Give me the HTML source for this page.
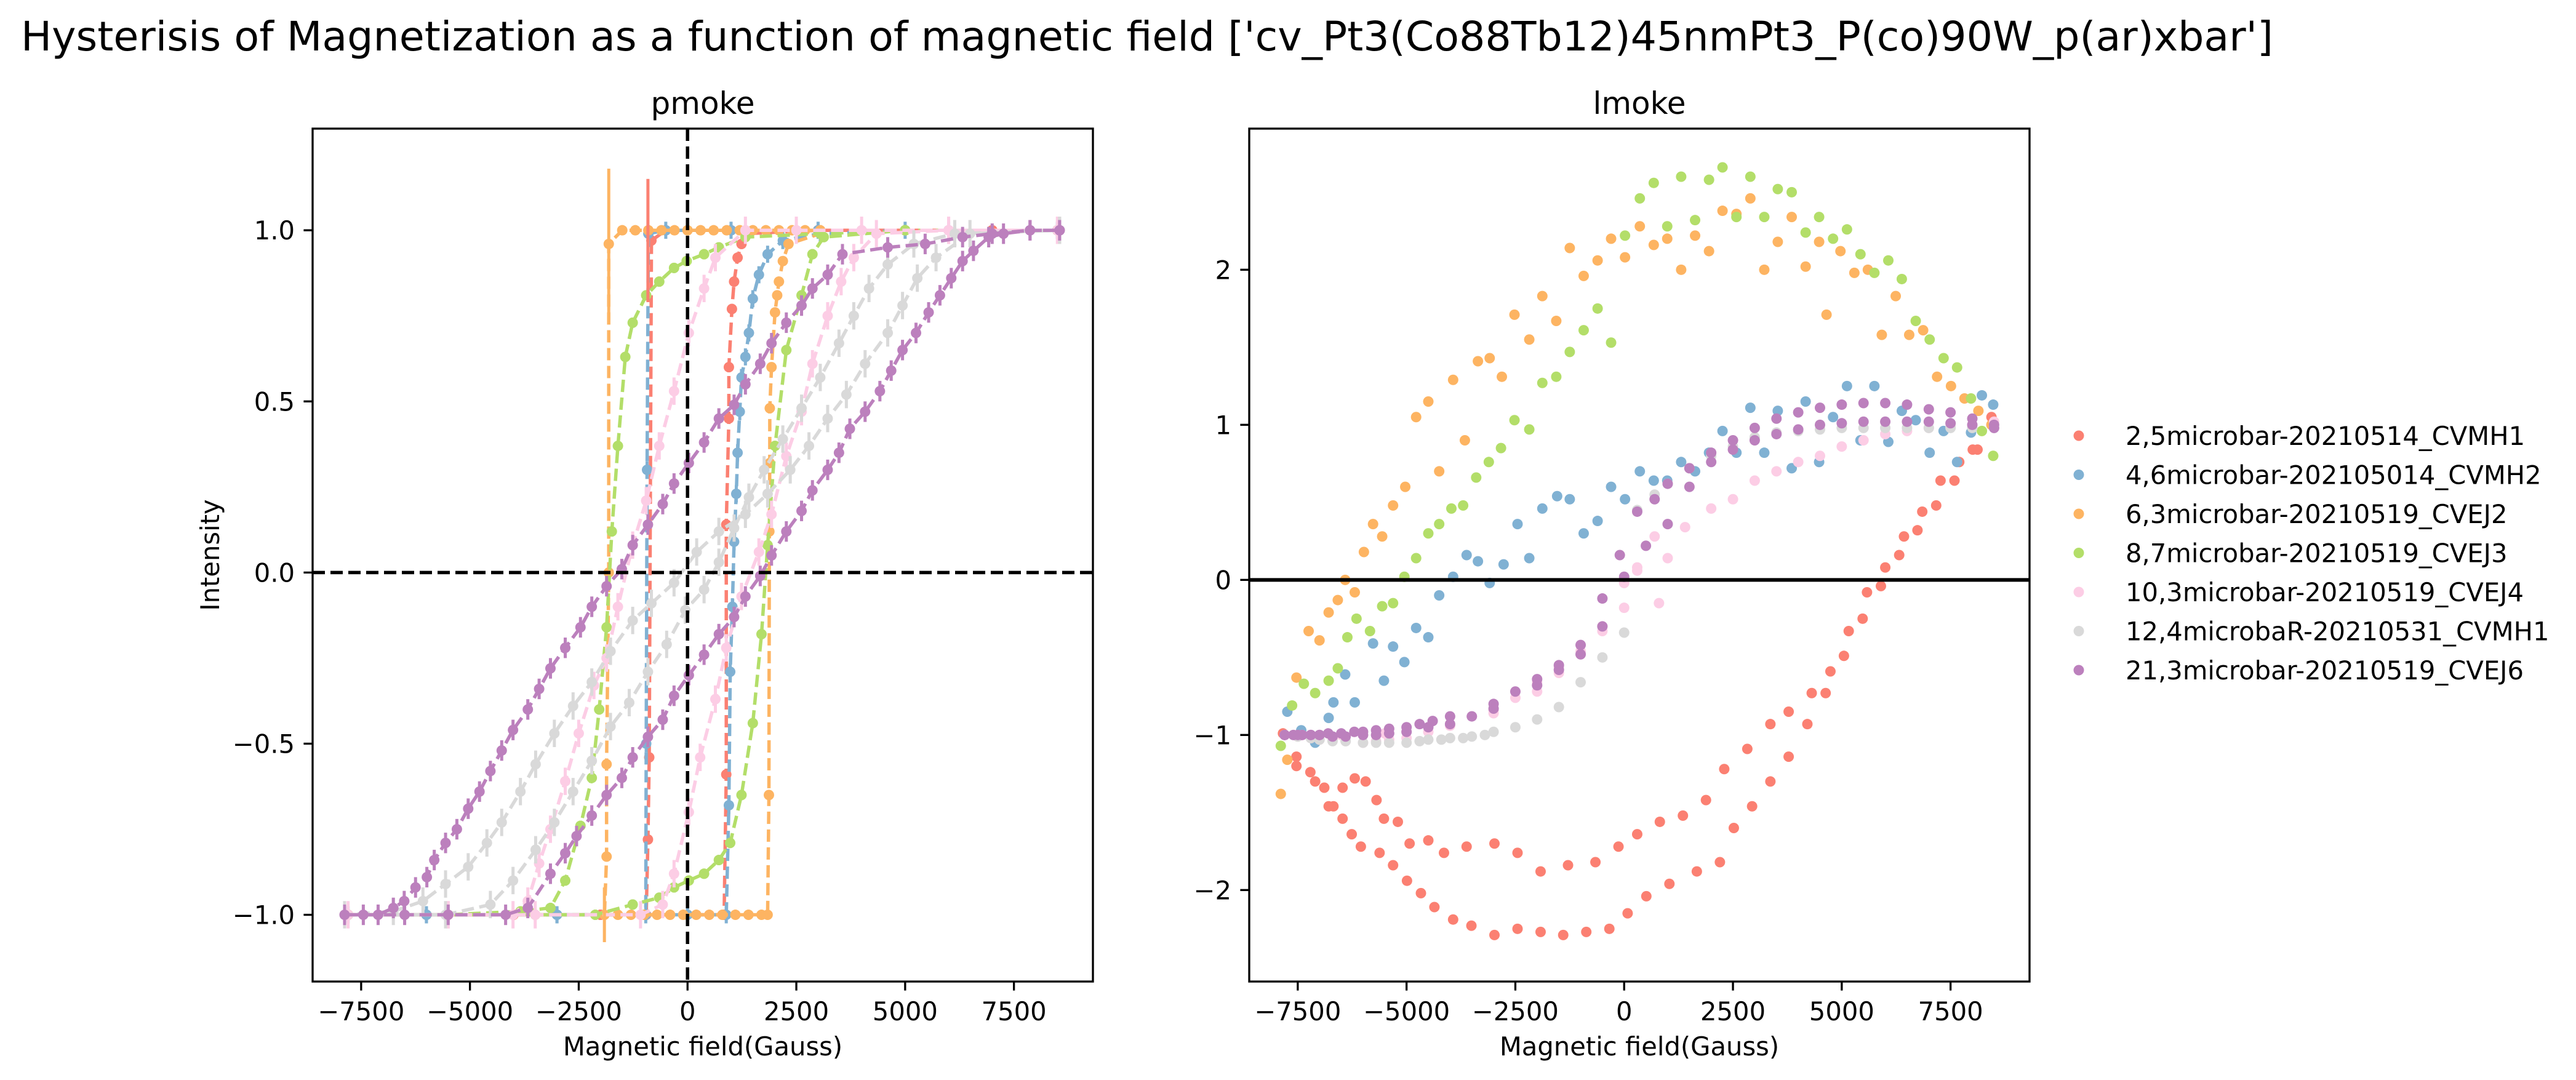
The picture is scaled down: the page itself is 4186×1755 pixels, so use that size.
<!DOCTYPE html>
<html><head><meta charset="utf-8"><style>
html,body{margin:0;padding:0;background:#fff;}
svg{display:block;font-family:"DejaVu Sans","Liberation Sans",sans-serif;}
</style></head><body>
<svg id="fig" xmlns="http://www.w3.org/2000/svg" width="4186" height="1755" viewBox="0 0 4186 1755">
<rect width="4186" height="1755" fill="#fff"/>
<text x="34" y="82" font-size="66" textLength="3660" lengthAdjust="spacingAndGlyphs">Hysterisis of Magnetization as a function of magnetic field ['cv_Pt3(Co88Tb12)45nmPt3_P(co)90W_p(ar)xbar']</text>
<g id="left"></g>
<g id="right"></g>
<g id="legend"></g>
</svg>
<script>
// ---------- data ----------
const seriesNames = ["2,5microbar-20210514_CVMH1","4,6microbar-202105014_CVMH2","6,3microbar-20210519_CVEJ2","8,7microbar-20210519_CVEJ3","10,3microbar-20210519_CVEJ4","12,4microbaR-20210531_CVMH1","21,3microbar-20210519_CVEJ6"];
const seriesColors = ["#fb8072","#80b1d3","#fdb462","#b3de69","#fccde5","#d9d9d9","#bc80bd"];
const xTicks = [-7500,-5000,-2500,0,2500,5000,7500];
const xTickLabels = ["\u22127500","\u22125000","\u22122500","0","2500","5000","7500"];
const leftYTicks = [-1,-0.5,0,0.5,1];
const leftYTickLabels = ["\u22121.0","\u22120.5","0.0","0.5","1.0"];
const rightYTicks = [-2,-1,0,1,2];
const rightYTickLabels = ["\u22122","\u22121","0","1","2"];

// pmoke (left) loops
const pRedX = [8500,7000,5000,3000,1000,-500,-830,-880,-910,-950,-2000,-4000,-6000,-7800,-6000,-4000,-2000,0,840,890,890,950,950,1020,1070,1150,1240,1330,3000,5000,7000,8500];
const pRedY = [1,1,1,1,1,1,0.97,-0.54,-0.78,-1,-1,-1,-1,-1,-1,-1,-1,-1,-1,-0.59,0.14,0.45,0.60,0.77,0.85,0.92,0.96,0.99,1,1,1,1];
const pBlueX = [8500,6000,3000,1000,-500,-900,-930,-950,-960,-3000,-6000,-7800,-6000,-3000,0,890,950,980,1030,1070,1120,1150,1200,1240,1330,1410,1500,1640,1840,2190,3050,5000,8500];
const pBlueY = [1,1,1,1,1,0.99,0.3,-0.5,-1,-1,-1,-1,-1,-1,-1,-1,-0.68,-0.29,-0.1,0.09,0.23,0.35,0.47,0.57,0.63,0.70,0.80,0.87,0.93,0.97,0.99,1,1];
const pOrangeX = [3050,2700,2400,2100,1800,1500,1200,900,600,300,0,-300,-600,-900,-1200,-1500,-1810,-1810,-1860,-1860,-1910,-1600,-1300,-1000,-700,-400,-100,200,500,800,1100,1400,1700,1840,1870,1880,1890,1890,1930,2010,2060,2100,2190,2320,3050];
const pOrangeY = [1,1,1,1,1,1,1,1,1,1,1,1,1,1,1,1,0.96,0,-0.56,-0.83,-1,-1,-1,-1,-1,-1,-1,-1,-1,-1,-1,-1,-1,-1,-0.65,0.12,0.32,0.48,0.60,0.76,0.81,0.85,0.91,0.96,0.99];
const pGreenX = [8500,5000,3050,1330,720,380,-20,-310,-650,-950,-1260,-1430,-1600,-1740,-1860,-2030,-2200,-2460,-2810,-3150,-3840,-5500,-7800,-5500,-3500,-2120,-1260,-650,-310,30,380,720,980,1240,1500,1700,1840,2010,2270,2620,2870,3130,5000,8500];
const pGreenY = [1,1,0.99,0.98,0.95,0.93,0.91,0.89,0.85,0.81,0.73,0.63,0.37,0.12,-0.16,-0.40,-0.60,-0.74,-0.90,-0.98,-0.99,-1,-1,-1,-1,-1,-0.97,-0.95,-0.92,-0.90,-0.88,-0.84,-0.79,-0.65,-0.44,-0.18,0.08,0.37,0.65,0.81,0.93,0.98,1,1];
const pPinkX = [8500,6000,4000,2500,1330,640,380,30,-310,-650,-950,-1260,-1600,-1860,-2150,-2500,-2810,-3150,-3410,-3670,-4010,-5500,-7800,-5500,-3500,-1080,-570,-310,30,290,640,890,1240,1640,1930,2270,2620,2870,3220,3530,3820,4340,6000,8500];
const pPinkY = [1,1,1,1,1,0.92,0.83,0.70,0.53,0.37,0.21,0.08,-0.10,-0.25,-0.33,-0.47,-0.61,-0.75,-0.85,-0.96,-1,-1,-1,-1,-1,-1,-0.97,-0.88,-0.70,-0.54,-0.37,-0.22,-0.07,0.06,0.17,0.34,0.47,0.61,0.75,0.85,0.92,0.99,1,1];
const pGreyX = [8550,6490,5710,5280,4940,4600,4080,3650,3220,2790,2360,1840,1330,720,210,-310,-830,-1260,-1770,-2200,-2630,-3060,-3490,-3840,-4270,-4610,-5040,-5560,-6080,-6760,-7880,-5560,-4530,-4010,-3490,-3060,-2630,-2200,-1770,-1340,-910,-480,-50,380,720,1070,1410,1760,2190,2620,3050,3480,3820,4170,4600,5200,6140,8550];
const pGreyY = [1,0.99,0.92,0.86,0.78,0.70,0.61,0.52,0.45,0.37,0.30,0.23,0.17,0.12,0.06,-0.03,-0.09,-0.14,-0.23,-0.32,-0.39,-0.47,-0.56,-0.64,-0.73,-0.79,-0.86,-0.91,-0.96,-0.99,-1,-1,-0.97,-0.90,-0.81,-0.73,-0.64,-0.55,-0.45,-0.38,-0.29,-0.21,-0.11,-0.05,0.03,0.13,0.22,0.30,0.39,0.48,0.57,0.67,0.75,0.83,0.90,0.96,0.99,1];
const pPurpleX = [8550,7870,7000,6320,5460,4600,3560,3220,2870,2620,2270,1930,1670,1330,1070,720,380,30,-310,-570,-910,-1260,-1510,-1860,-2200,-2460,-2810,-3150,-3410,-3670,-4010,-4270,-4530,-4780,-5040,-5300,-5560,-5820,-5990,-6250,-6510,-6760,-7110,-7450,-7880,-6500,-5500,-4180,-3670,-3150,-2810,-2550,-2200,-1860,-1510,-1260,-910,-570,-310,30,380,720,1070,1330,1670,1930,2270,2620,2870,3220,3480,3730,4080,4420,4680,4940,5250,5540,5800,6060,6320,6570,6920,7260,7870,8550];
const pPurpleY = [1,1,0.99,0.98,0.96,0.95,0.93,0.87,0.83,0.78,0.73,0.67,0.61,0.55,0.49,0.45,0.38,0.32,0.26,0.20,0.14,0.08,0.01,-0.04,-0.10,-0.16,-0.22,-0.28,-0.34,-0.40,-0.46,-0.52,-0.58,-0.64,-0.69,-0.75,-0.79,-0.84,-0.89,-0.92,-0.96,-0.98,-1,-1,-1,-1,-1,-1,-0.98,-0.88,-0.82,-0.77,-0.71,-0.65,-0.60,-0.54,-0.48,-0.43,-0.36,-0.30,-0.24,-0.18,-0.13,-0.07,-0.01,0.05,0.12,0.18,0.24,0.30,0.35,0.42,0.47,0.53,0.59,0.65,0.70,0.76,0.81,0.86,0.91,0.94,0.98,0.99,1,1];
const pErrors = [0.015,0.025,0.01,0.015,0.04,0.04,0.03];
const bigErrX = [-1810,-910,-1910];
const bigErrY = [0.96,0.97,-1];
const bigErrE = [0.22,0.18,0.08];
const bigErrSeries = [2,0,2];

// lmoke (right) scatter
const lRedX = [-7840,-7530,-7210,-6890,-6680,-6470,-6190,-5940,-5690,-5520,-5200,-4930,-4500,-4140,-3620,-2980,-2450,-1920,-1290,-660,-130,300,820,1350,1880,2300,2830,3360,3780,4310,4740,5160,5580,6000,6430,6850,7270,7700,8120,8440,-7530,-7100,-6790,-6470,-6260,-6050,-5620,-5310,-4990,-4670,-4360,-3930,-3510,-2980,-2450,-1920,-1400,-870,-340,80,510,1040,1670,2200,2520,2940,3360,3780,4210,4630,5050,5480,5900,6320,6740,7170,7590,8010,8440];
const lRedY = [-0.99,-1.14,-1.24,-1.34,-1.46,-1.34,-1.28,-1.30,-1.42,-1.54,-1.56,-1.70,-1.68,-1.76,-1.72,-1.70,-1.76,-1.88,-1.84,-1.82,-1.72,-1.64,-1.56,-1.52,-1.42,-1.22,-1.09,-0.93,-0.85,-0.73,-0.59,-0.33,-0.08,0.08,0.28,0.44,0.64,0.76,0.84,1.0,-1.20,-1.30,-1.46,-1.54,-1.64,-1.72,-1.76,-1.84,-1.94,-2.02,-2.11,-2.19,-2.23,-2.29,-2.25,-2.27,-2.29,-2.27,-2.25,-2.15,-2.04,-1.96,-1.88,-1.82,-1.60,-1.46,-1.30,-1.14,-0.93,-0.73,-0.49,-0.25,-0.04,0.16,0.32,0.48,0.64,0.84,1.05];
const lBlueX = [-7740,-7420,-7100,-6790,-6680,-6410,-6190,-5770,-5520,-5310,-5050,-4780,-4500,-4250,-3930,-3620,-3360,-3090,-2770,-2450,-2180,-1880,-1540,-1250,-930,-610,-300,20,360,680,990,1310,1630,1950,2260,2580,2900,3220,3530,3850,4170,4480,4800,5120,5430,5750,6070,6380,6700,7020,7340,7650,7970,8220,8480];
const lBlueY = [-0.85,-0.97,-1.05,-0.89,-0.79,-0.61,-0.79,-0.41,-0.65,-0.43,-0.53,-0.31,-0.37,-0.10,0.02,0.16,0.12,-0.02,0.10,0.36,0.14,0.46,0.54,0.52,0.30,0.38,0.60,0.52,0.70,0.64,0.64,0.76,0.70,0.82,0.96,0.82,1.11,0.82,1.09,0.72,1.15,0.76,1.05,1.25,0.90,1.25,0.89,1.09,1.03,0.82,0.96,0.76,0.95,1.19,1.13];
const lOrangeX = [-7890,-7740,-7530,-7250,-7000,-6790,-6580,-6410,-6190,-5980,-5770,-5560,-5310,-5030,-4780,-4500,-4250,-3930,-3660,-3360,-3090,-2810,-2520,-2180,-1880,-1560,-1250,-930,-610,-300,20,360,680,990,1310,1630,1950,2260,2580,2900,3220,3530,3850,4170,4480,4650,4970,5290,5600,5920,6240,6550,6870,7190,7510,7820,8140,8440];
const lOrangeY = [-1.38,-1.16,-0.63,-0.33,-0.39,-0.21,-0.13,0,-0.08,0.18,0.36,0.28,0.48,0.60,1.05,1.15,0.70,1.29,0.90,1.41,1.43,1.31,1.71,1.55,1.83,1.67,2.14,1.96,2.06,2.20,2.08,2.28,2.16,2.20,2.0,2.22,2.12,2.38,2.36,2.46,2.0,2.18,2.34,2.02,2.18,1.71,2.12,1.98,2.0,1.58,1.83,1.58,1.61,1.31,1.25,1.17,1.09,1.0];
const lGreenX = [-7890,-7630,-7360,-7100,-6790,-6580,-6360,-6150,-5840,-5560,-5310,-5050,-4780,-4500,-4250,-3970,-3700,-3400,-3110,-2830,-2520,-2180,-1880,-1560,-1250,-930,-610,-300,20,360,680,990,1310,1630,1950,2260,2580,2900,3220,3530,3850,4170,4480,4800,5120,5430,5750,6070,6380,6700,7020,7340,7650,7970,8220,8480];
const lGreenY = [-1.07,-0.81,-0.67,-0.73,-0.65,-0.57,-0.37,-0.25,-0.33,-0.17,-0.15,0.02,0.14,0.30,0.36,0.46,0.48,0.66,0.76,0.85,1.03,0.97,1.27,1.31,1.47,1.61,1.75,1.53,2.22,2.46,2.56,2.28,2.60,2.32,2.58,2.66,2.34,2.60,2.34,2.52,2.50,2.24,2.34,2.20,2.26,2.10,1.98,2.06,1.94,1.67,1.55,1.43,1.37,1.17,0.96,0.80];
const lPinkX = [-7800,-7500,-7200,-7000,-6700,-6400,-6000,-5700,-5400,-5000,-4500,-4000,-3500,-3000,-2500,-2000,-1500,-1000,-500,0,300,700,1000,1400,2000,2500,3000,3500,4000,4500,5000,5500,6000,6500,7000,7500,8000,8500,-7800,-7400,-7000,-6500,-6000,-5500,-5000,-4000,-3000,-2000,-1500,-1000,-500,0,300,800];
const lPinkY = [-1.0,-1.01,-1.02,-1.03,-1.03,-1.04,-1.05,-1.04,-1.03,-1.02,-0.98,-0.94,-0.88,-0.84,-0.76,-0.66,-0.56,-0.46,-0.33,-0.18,0.08,0.28,0.14,0.34,0.46,0.52,0.64,0.70,0.76,0.80,0.86,0.90,0.94,0.96,0.98,0.99,1.0,1.02,-1.0,-1.0,-1.0,-1.0,-1.0,-0.99,-0.98,-0.94,-0.86,-0.72,-0.60,-0.48,-0.30,-0.02,0.06,-0.15];
const lGreyX = [-7800,-7500,-7200,-7000,-6700,-6400,-6000,-5700,-5400,-5000,-4700,-4500,-4200,-4000,-3700,-3500,-3200,-3000,-2500,-2000,-1500,-1000,-500,0,300,700,1000,1500,2000,2500,3000,3500,4000,4500,5000,5500,6000,6500,7000,7500,8000,8500];
const lGreyY = [-1.0,-1.01,-1.02,-1.03,-1.04,-1.04,-1.05,-1.05,-1.05,-1.05,-1.04,-1.03,-1.03,-1.02,-1.02,-1.01,-1.0,-0.98,-0.95,-0.90,-0.82,-0.66,-0.50,-0.34,0.45,0.55,0.62,0.72,0.80,0.86,0.92,0.95,0.96,0.97,0.98,0.98,0.98,0.98,0.98,0.98,0.98,0.98];
const lPurpleX = [-7800,-7600,-7400,-7200,-7000,-6800,-6500,-6200,-6000,-5700,-5400,-5000,-4700,-4400,-4000,-3000,-2000,-1500,-1000,-500,-100,300,700,1000,1500,2000,2500,3000,3500,4000,4500,5000,5500,6000,6500,7000,7500,8000,8500,-7800,-7500,-7200,-7000,-6700,-6400,-6000,-5700,-5400,-5000,-4500,-4000,-3500,-3000,-2500,-2000,-1500,-1000,-500,0,500,1000,1500,2000,2500,3000,3500,4000,4500,5000,5500,6000,6500,7000,7500,8000,8500];
const lPurpleY = [-1,-1.0,-1.0,-1.0,-1.0,-0.99,-0.99,-0.98,-0.98,-0.97,-0.96,-0.95,-0.93,-0.91,-0.88,-0.80,-0.68,-0.58,-0.48,-0.30,0.16,0.44,0.52,0.62,0.72,0.82,0.90,0.98,1.04,1.08,1.11,1.13,1.14,1.14,1.13,1.10,1.08,1.04,1.0,-1,-1.0,-1.0,-1.0,-1.01,-1.01,-1.0,-1.0,-0.99,-0.98,-0.95,-0.93,-0.88,-0.83,-0.72,-0.64,-0.55,-0.42,-0.12,0.02,0.22,0.36,0.60,0.76,0.84,0.90,0.94,0.97,1.0,1.01,1.02,1.02,1.02,1.02,1.01,1.0,0.98];

// ---------- drawing ----------
const NS = "http://www.w3.org/2000/svg";
function mk(tag, attrs, parent){const e=document.createElementNS(NS,tag);for(const k in attrs)e.setAttribute(k,attrs[k]);parent.appendChild(e);return e;}
const XMIN=-8615, XMAX=9315;
const L={x0:508,x1:1776,y0:209,y1:1595,ymin:-1.195,ymax:1.297};
const R={x0:2030,x1:3298,y0:209,y1:1595,ymin:-2.59,ymax:2.91};
function sx(A,v){return A.x0+(v-XMIN)/(XMAX-XMIN)*(A.x1-A.x0);}
function sy(A,v){return A.y1-(v-A.ymin)/(A.ymax-A.ymin)*(A.y1-A.y0);}

function axes(A,g,title,yt,ytl,ylabel){
  for(let i=0;i<xTicks.length;i++){
    const x=sx(A,xTicks[i]);
    const t=mk("line",{x1:x,x2:x,y1:A.y1,y2:A.y1+14.6,stroke:"#000","stroke-width":3.3},g);
    
    
    const l=mk("text",{x:x,y:A.y1+63,"font-size":41.7,"text-anchor":"middle"},g);
    l.textContent=xTickLabels[i];
    
    
  }
  for(let i=0;i<yt.length;i++){
    const y=sy(A,yt[i]);
    const t=mk("line",{x1:A.x0-14.6,x2:A.x0,y1:y,y2:y,stroke:"#000","stroke-width":3.3},g);
    
    
    const l=mk("text",{x:A.x0-29,y:y+15,"font-size":41.7,"text-anchor":"end"},g);
    l.textContent=ytl[i];
    
    
  }
  const tt=mk("text",{x:(A.x0+A.x1)/2,y:185,"font-size":50,"text-anchor":"middle"},g);
  tt.textContent=title;
  
  
  const xl=mk("text",{x:(A.x0+A.x1)/2,y:1715,"font-size":41.7,"text-anchor":"middle"},g);
  xl.textContent="Magnetic field(Gauss)";
  
  
  if(ylabel){
    const yl=mk("text",{x:0,y:0,"font-size":41.7,"text-anchor":"middle",transform:`translate(356,${(A.y0+A.y1)/2}) rotate(-90)`},g);
    yl.textContent=ylabel;
    
    
  }
}
function frame(A,g){
  const r=mk("rect",{x:A.x0,y:A.y0,width:A.x1-A.x0,height:A.y1-A.y0,fill:"none",stroke:"#000","stroke-width":3.3},g);
  
  
}

// left panel
const gl=document.getElementById("left");
const clipL=mk("clipPath",{id:"cl"},gl);mk("rect",{x:L.x0,y:L.y0,width:L.x1-L.x0,height:L.y1-L.y0},clipL);
const plotL=mk("g",{"clip-path":"url(#cl)"},gl);


const pX=[pRedX,pBlueX,pOrangeX,pGreenX,pPinkX,pGreyX,pPurpleX];
const pY=[pRedY,pBlueY,pOrangeY,pGreenY,pPinkY,pGreyY,pPurpleY];
for(let s=0;s<7;s++){
  const g=mk("g",{},plotL);
  
  
  const xs=pX[s], ys=pY[s], c=seriesColors[s];
  for(let i=0;i<xs.length;i++){
    const x=sx(L,xs[i]);
    const eb=mk("line",{x1:x,x2:x,y1:sy(L,ys[i]+pErrors[s]),y2:sy(L,ys[i]-pErrors[s]),stroke:c,"stroke-width":5},g);
    
    
  }
  let d="";
  for(let i=0;i<xs.length;i++) d+=(i?"L":"M")+sx(L,xs[i]).toFixed(1)+","+sy(L,ys[i]).toFixed(1);
  const p=mk("path",{d:d,fill:"none",stroke:c,"stroke-width":5.5,"stroke-dasharray":"20,9","stroke-linejoin":"round"},g);
  
  
  for(let i=0;i<xs.length;i++){
    const m=mk("circle",{cx:sx(L,xs[i]),cy:sy(L,ys[i]),r:8.5,fill:c},g);
    
    
  }
}
for(let i=0;i<bigErrX.length;i++){
  const x=sx(L,bigErrX[i]);
  const e=mk("line",{x1:x,x2:x,y1:sy(L,bigErrY[i]+bigErrE[i]),y2:sy(L,bigErrY[i]-bigErrE[i]),stroke:seriesColors[bigErrSeries[i]],"stroke-width":5},plotL);
  
  
}
const v0=mk("line",{x1:sx(L,0),x2:sx(L,0),y1:L.y0,y2:L.y1,stroke:"#000","stroke-width":5.5,"stroke-dasharray":"20,9"},plotL);


const h0=mk("line",{x1:L.x0,x2:L.x1,y1:sy(L,0),y2:sy(L,0),stroke:"#000","stroke-width":5.5,"stroke-dasharray":"20,9"},plotL);


frame(L,gl);
axes(L,gl,"pmoke",leftYTicks,leftYTickLabels,"Intensity");

// right panel
const gr=document.getElementById("right");
const clipR=mk("clipPath",{id:"cr"},gr);mk("rect",{x:R.x0,y:R.y0,width:R.x1-R.x0,height:R.y1-R.y0},clipR);
const plotR=mk("g",{"clip-path":"url(#cr)"},gr);


const lX=[lRedX,lBlueX,lOrangeX,lGreenX,lPinkX,lGreyX,lPurpleX];
const lY=[lRedY,lBlueY,lOrangeY,lGreenY,lPinkY,lGreyY,lPurpleY];
for(let s=0;s<7;s++){
  const g=mk("g",{},plotR);
  
  
  for(let i=0;i<lX[s].length;i++){
    const m=mk("circle",{cx:sx(R,lX[s][i]),cy:sy(R,lY[s][i]),r:8.5,fill:seriesColors[s]},g);
    
    
  }
}
const rz=mk("line",{x1:R.x0,x2:R.x1,y1:sy(R,0),y2:sy(R,0),stroke:"#000","stroke-width":6},plotR);


frame(R,gr);
axes(R,gr,"lmoke",rightYTicks,rightYTickLabels,null);

// legend
const lg=document.getElementById("legend");
for(let i=0;i<seriesNames.length;i++){
  const y=708+i*63.5;
  const e=mk("g",{},lg);
  
  
  mk("circle",{cx:3378,cy:y,r:8.5,fill:seriesColors[i]},e);
  const t=mk("text",{x:3454,y:y+15,"font-size":41.7},e);
  t.textContent=seriesNames[i];
}
</script>
</body></html>
